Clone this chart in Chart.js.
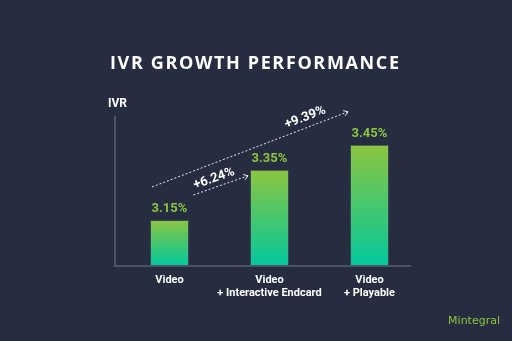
<!DOCTYPE html>
<html>
<head>
<meta charset="utf-8">
<title>IVR Growth Performance</title>
<script src="https://cdn.jsdelivr.net/npm/chart.js@4.4.0/dist/chart.umd.min.js"></script>
<style>
	html, body { margin: 0; padding: 0; background: #262d40; }
	#wrap { width: 512px; height: 341px; position: relative; }
</style>
</head>
<body>
<div id="wrap"><canvas id="ivrChart"></canvas></div>
<script>
const categories = [['Video'], ['Video', '+ Interactive Endcard'], ['Video', '+ Playable']];
const ivrValues = [3.15, 3.35, 3.45];
const growthLabels = ['+6.24%', '+9.39%'];
const growthFrom = [0, 0];
const growthTo = [1, 2];

const BG = '#262d40';
const LIME = '#8cc63f';
const TEAL = '#03c89c';

// background, title, axis lines, value labels and growth arrows
const decor = {
	id: 'decor',
	beforeDraw(chart) {
		const ctx = chart.ctx;
		ctx.save();
		ctx.fillStyle = BG;
		ctx.fillRect(0, 0, chart.width, chart.height);
		ctx.restore();
	},
	afterDatasetsDraw(chart) {
		const ctx = chart.ctx;
		const area = chart.chartArea;
		const bars = chart.getDatasetMeta(0).data;
		ctx.save();

		// title with letter spacing
		ctx.fillStyle = '#ffffff';
		ctx.font = 'bold 18px "Open Sans"';
		ctx.textBaseline = 'middle';
		ctx.textAlign = 'left';
		const title = 'IVR GROWTH PERFORMANCE';
		ctx.letterSpacing = '0px';
		const w0 = ctx.measureText(title).width;
		const sp = (289 - w0) / (title.length - 1);
		ctx.letterSpacing = sp + 'px';
		ctx.fillText(title, 254.5 - 289 / 2, 64);
		ctx.letterSpacing = '0px';

		// axis name
		ctx.font = 'bold 12px Roboto';
		ctx.fillText('IVR', area.left - 11.5, 104);

		// axis lines
		ctx.strokeStyle = '#5a6170';
		ctx.lineWidth = 1.5;
		ctx.beginPath();
		ctx.moveTo(area.left - 4.5, area.top);
		ctx.lineTo(area.left - 4.5, area.bottom + 1);
		ctx.lineTo(area.right - 8.5, area.bottom + 1);
		ctx.stroke();

		// value labels
		ctx.fillStyle = LIME;
		ctx.font = 'bold 13px Roboto';
		ctx.textAlign = 'center';
		bars.forEach((bar, i) => {
			ctx.fillText(ivrValues[i].toFixed(2) + '%', bar.x, bar.y - 11.5);
		});

		// growth arrows, anchored to the bars they compare
		const offsets = [
			{ sx: 24, sy: -25, ex: -21.5, ey: 6, t: 0.43, lift: 8.5 },
			{ sx: -17.5, sy: -33, ex: -21.5, ey: -33, t: 0.8, lift: 10 }
		];
		growthLabels.forEach((label, i) => {
			const a = bars[growthFrom[i]];
			const b = bars[growthTo[i]];
			const o = offsets[i];
			const x1 = a.x + o.sx, y1 = a.y + o.sy;
			const x2 = b.x + o.ex, y2 = b.y + o.ey;
			const ang = Math.atan2(y2 - y1, x2 - x1);

			ctx.strokeStyle = 'rgba(255,255,255,0.9)';
			ctx.lineWidth = 1;
			ctx.setLineDash([2, 2]);
			ctx.beginPath();
			ctx.moveTo(x1, y1);
			ctx.lineTo(x2, y2);
			ctx.stroke();
			ctx.setLineDash([]);
			ctx.beginPath();
			ctx.moveTo(x2 - 5 * Math.cos(ang - 0.6), y2 - 5 * Math.sin(ang - 0.6));
			ctx.lineTo(x2, y2);
			ctx.lineTo(x2 - 5 * Math.cos(ang + 0.6), y2 - 5 * Math.sin(ang + 0.6));
			ctx.stroke();

			const mx = x1 + (x2 - x1) * o.t;
			const my = y1 + (y2 - y1) * o.t;
			ctx.save();
			ctx.translate(mx + o.lift * Math.sin(ang), my - o.lift * Math.cos(ang));
			ctx.rotate(ang);
			ctx.fillStyle = '#ffffff';
			ctx.font = 'bold 13px Roboto';
			ctx.textAlign = 'center';
			ctx.textBaseline = 'middle';
			ctx.fillText(label, 0, 0);
			ctx.restore();
		});

		// brand mark
		ctx.fillStyle = LIME;
		ctx.font = '11px "DejaVu Sans"';
		ctx.textAlign = 'right';
		ctx.fillText('Mintegral', 500, 321);
		ctx.restore();
	}
};

const ctx = document.getElementById('ivrChart').getContext('2d');
const chart = new Chart(ctx, {
	type: 'bar',
	data: {
		labels: categories,
		datasets: [{
			data: ivrValues,
			backgroundColor: function(c) {
				const area = c.chart.chartArea;
				if (!area) return LIME;
				const top = c.chart.scales.y.getPixelForValue(ivrValues[c.dataIndex]);
				const g = c.chart.ctx.createLinearGradient(0, top, 0, area.bottom);
				g.addColorStop(0, LIME);
				g.addColorStop(1, TEAL);
				return g;
			},
			borderColor: '#3b4753',
			borderWidth: 1,
			borderSkipped: 'bottom',
			barPercentage: 0.39,
			categoryPercentage: 1
		}]
	},
	options: {
		responsive: true,
		maintainAspectRatio: false,
		animation: false,
		layout: { padding: { top: 116, left: 119.5, right: 92.5, bottom: 16 } },
		plugins: {
			legend: { display: false },
			tooltip: { enabled: false }
		},
		scales: {
			y: {
				display: false,
				min: 2.97,
				max: 3.565
			},
			x: {
				grid: { display: false, drawTicks: false },
				border: { display: false },
				afterFit: s => { s.height = 60; },
				ticks: {
					color: '#ffffff',
					padding: 9,
					autoSkip: false,
					maxRotation: 0,
					minRotation: 0,
					font: { family: 'Roboto', weight: 'bold', size: 11, lineHeight: 1.18 }
				}
			}
		}
	},
	plugins: [decor]
});
</script>
</body>
</html>
